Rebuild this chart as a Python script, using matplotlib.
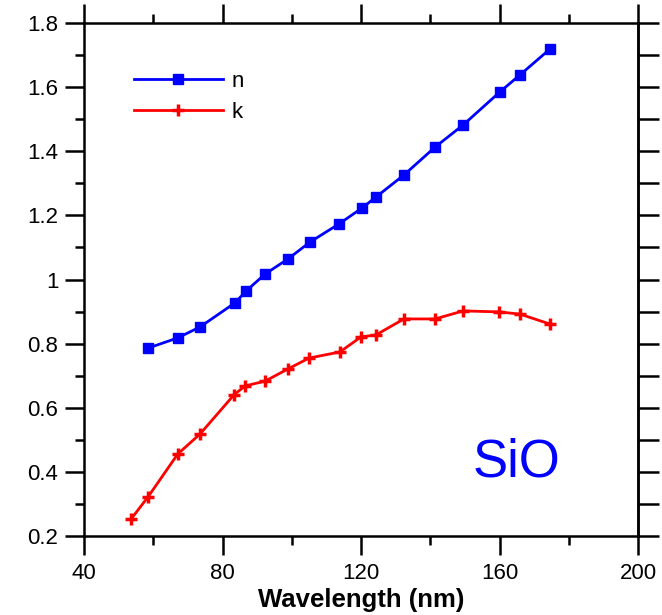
import numpy as np
import matplotlib
matplotlib.use("Agg")
import matplotlib.pyplot as plt
from matplotlib.ticker import MultipleLocator

plt.rcParams["font.family"] = ["Liberation Sans", "DejaVu Sans"]

# refractive index n
n_wl = [58.5, 67.1, 73.5, 83.6, 86.8, 92.3, 98.9, 105.3, 113.6, 120.3,
        124.3, 132.4, 141.4, 149.5, 160.1, 165.9, 174.6]
n_val = [0.786, 0.818, 0.852, 0.927, 0.964, 1.017, 1.064, 1.117, 1.173, 1.223,
         1.257, 1.326, 1.413, 1.482, 1.585, 1.638, 1.719]

# extinction coefficient k
k_wl = [53.6, 58.5, 67.1, 73.5, 83.3, 86.5, 92.3, 98.9, 105.0, 113.9,
        120.0, 124.3, 132.4, 141.4, 149.5, 159.9, 165.9, 174.6]
k_val = [0.253, 0.322, 0.456, 0.518, 0.640, 0.668, 0.683, 0.721, 0.755, 0.774,
         0.821, 0.827, 0.877, 0.877, 0.902, 0.899, 0.892, 0.861]

fig = plt.figure(figsize=(6.62, 6.15), dpi=100)
ax = fig.add_axes([84 / 662, 1 - 536 / 615, (638 - 84) / 662, (536 - 23) / 615])

ax.plot(n_wl, n_val, color="#0000ff", lw=2, marker="s", ms=7, label="n")
ax.plot(k_wl, k_val, color="#ff0000", lw=2, marker="+", ms=9, mew=2.5, label="k")

ax.set_xlim(40, 200)
ax.set_ylim(0.2, 1.8)
ax.xaxis.set_major_locator(MultipleLocator(40))
ax.xaxis.set_minor_locator(MultipleLocator(20))
ax.yaxis.set_major_locator(MultipleLocator(0.2))
ax.yaxis.set_minor_locator(MultipleLocator(0.1))
ax.yaxis.set_major_formatter(plt.FuncFormatter(lambda v, _: f"{v:g}"))

for sp in ax.spines.values():
    sp.set_linewidth(1.8)

ax.tick_params(which="both", direction="out", width=1.8, top=True, right=False,
               labelsize=16)
ax.tick_params(which="major", length=13.5)
ax.tick_params(which="minor", length=6.5)
ax.tick_params(axis="x", which="major", pad=6)
ax.tick_params(axis="y", which="major", pad=5)

# right axis: long ticks every 0.1, no labels
sec = ax.secondary_yaxis("right")
sec.yaxis.set_major_locator(MultipleLocator(0.1))
sec.tick_params(direction="out", length=15, width=1.8, labelright=False)
sec.spines["right"].set_linewidth(1.8)

ax.set_xlabel("Wavelength (nm)", fontsize=18.5, fontweight="bold", labelpad=2.5)

ax.text(165, 0.43, "SiO", color="#0000ff", fontsize=38, ha="center", va="center")

ax.legend(loc="upper left", bbox_to_anchor=(0.054, 0.945), frameon=False,
          fontsize=16, handlelength=4.0, handletextpad=0.4, labelspacing=0.43)

fig.savefig("out.png", dpi=100)
